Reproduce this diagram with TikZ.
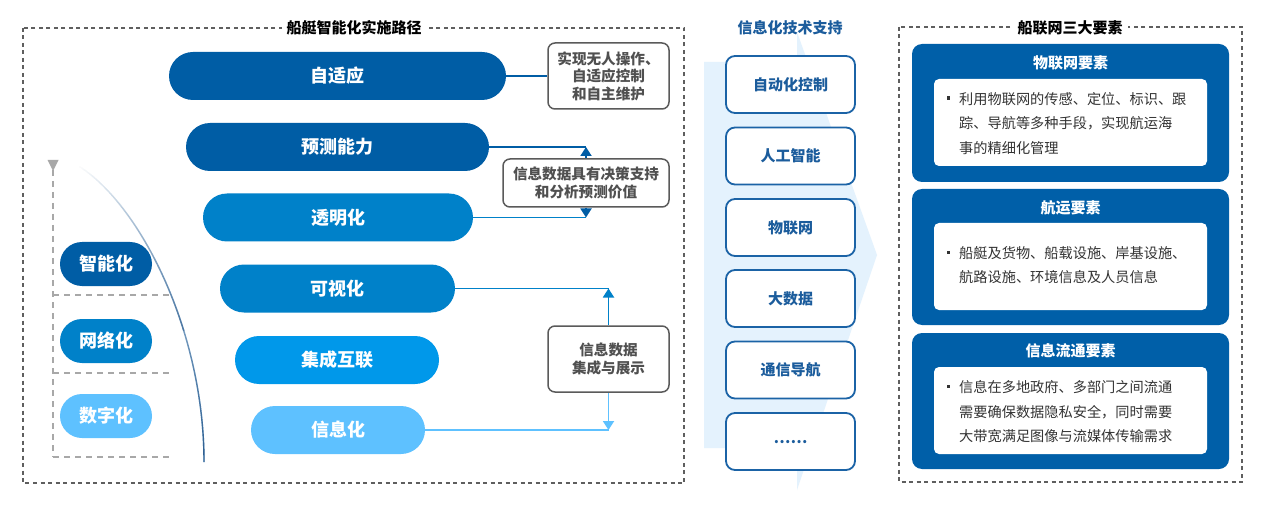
\documentclass[tikz,border=0pt]{standalone}
\usepackage{fontspec}
\setmainfont{Noto Sans CJK SC}
\usetikzlibrary{arrows.meta,fadings}
\definecolor{navy}{HTML}{005DA5}
\definecolor{midb}{HTML}{0081C9}
\definecolor{brightb}{HTML}{0098EA}
\definecolor{lightb}{HTML}{5EC1FF}
\definecolor{cgray}{HTML}{5A5A5A}
\definecolor{ctext}{HTML}{505050}
\definecolor{fgray}{HTML}{5E5E5E}
\definecolor{dgray}{HTML}{A8A8A8}
\definecolor{tborder}{HTML}{1B63A6}
\definecolor{ttext}{HTML}{1B5C9C}
\definecolor{arrowbg}{HTML}{E4F2FD}
\definecolor{pblue}{HTML}{005FA8}
\definecolor{bodyc}{HTML}{333333}
\definecolor{curvelight}{HTML}{A9D3F3}
\definecolor{curvedark}{HTML}{2C5C8E}
\begin{document}
\begin{tikzpicture}[x=1pt,y=-1pt,
  pill/.style={rounded corners=24pt, minimum height=48pt, inner sep=0pt, text=white, font=\fontsize{18}{20}\selectfont\bfseries},
  lvl/.style={rounded corners=22pt, minimum width=92pt, minimum height=44pt, inner sep=0pt, text=white, font=\fontsize{18}{20}\selectfont\bfseries},
  callout/.style={draw=cgray, line width=1.5pt, rounded corners=7pt, fill=white, text=ctext, font=\fontsize{14.6}{17.5}\selectfont\bfseries, align=center, inner sep=0pt},
  techbox/.style={draw=tborder, line width=1.8pt, rounded corners=9pt, fill=white, minimum width=129pt, minimum height=57pt, inner sep=0pt, text=ttext, font=\fontsize{15}{18}\selectfont\bfseries},
  frame/.style={draw=fgray, line width=1.8pt, dash pattern=on 4pt off 3.5pt},
  ftitle/.style={fill=white, inner xsep=5pt, inner ysep=2pt, font=\fontsize{15}{18}\selectfont\bfseries},
  panel/.style={fill=pblue, rounded corners=10pt, minimum width=317pt, inner sep=0pt},
  innerbox/.style={fill=white, rounded corners=5pt, minimum width=273pt, minimum height=87pt, inner sep=0pt},
  ptitle/.style={text=white, font=\fontsize{15}{18}\selectfont\bfseries},
  body/.style={text=bodyc, font=\fontsize{14.2}{24.6}\selectfont, align=left, inner sep=0pt, anchor=west},
  link/.style={line width=1.8pt},
  tip/.style={-{Triangle[width=11pt,length=9pt]}},
  sep/.style={draw=dgray, line width=1.1pt, dash pattern=on 6pt off 5pt}
]
\useasboundingbox[fill=white] (0,0) rectangle (1269,505);

% ---------- left frame ----------
\draw[frame] (23,28) rectangle (684,483);
\node[ftitle] (t1) at (354,28) {船艇智能化实施路径};

% left scale
\draw[sep] (53,170) -- (53,457);
\fill[dgray] (47.5,160) -- (58.5,160) -- (53,171) -- cycle;
\draw[sep] (53,295) -- (170,295);
\draw[sep] (53,373) -- (170,373);
\draw[sep] (53,457) -- (170,457);

% curve
\draw[line width=1.4pt, curvelight, path fading=north] (79,166) .. controls (140,205) and (204,330) .. (204,462);
\begin{scope}
\clip (60,150) rectangle (230,330);
\draw[line width=1.4pt, curvedark, path fading=north] (79,166) .. controls (140,205) and (204,330) .. (204,462);
\end{scope}
\draw[line width=1.4pt, curvedark, path fading=north] (79,166) .. controls (140,205) and (204,330) .. (204,462);

\node[lvl, fill=navy] (l1) at (106,264) {智能化};
\node[lvl, fill=midb] (l2) at (106,341) {网络化};
\node[lvl, fill=lightb] (l3) at (106,416) {数字化};

% pills
\node[pill, fill=navy, minimum width=337pt] (p1) at (337.5,76) {自适应};
\node[pill, fill=navy, minimum width=303pt] (p2) at (337.5,147) {预测能力};
\node[pill, fill=midb, minimum width=270pt] (p3) at (338,217.5) {透明化};
\node[pill, fill=midb, minimum width=235pt] (p4) at (337.5,288.5) {可视化};
\node[pill, fill=brightb, minimum width=204pt] (p5) at (337,360) {集成互联};
\node[pill, fill=lightb, minimum width=174pt] (p6) at (338,430) {信息化};

% callouts
\node[callout, minimum width=121pt, minimum height=66pt] (b1) at (608.5,76) {实现无人操作、\\自适应控制\\和自主维护};
\node[callout, minimum width=166pt, minimum height=48pt] (b2) at (586,183) {信息数据具有决策支持\\和分析预测价值};
\node[callout, minimum width=121pt, minimum height=66pt] (b3) at (608.5,359) {信息数据\\集成与展示};

\draw[link, navy] (p1.east) -- (b1.west);

\coordinate (j2) at (b2.north |- p2.east);
\coordinate (k2) at (b2.south |- p3.east);
\draw[link, navy] (p2.east) -- (j2);
\draw[link, navy, tip] (b2.north) -- (j2);
\draw[link, midb] (p3.east) -- (k2);
\draw[link, navy, tip] (b2.south) -- (k2);

\coordinate (j3) at (b3.north |- p4.east);
\coordinate (k3) at (b3.south |- p6.east);
\draw[link, midb] (p4.east) -- (j3);
\draw[link, midb, tip] (b3.north) -- (j3);
\draw[link, lightb] (p6.east) -- (k3);
\draw[link, lightb, tip] (b3.south) -- (k3);

% ---------- middle column ----------
\fill[arrowbg] (704,62) -- (797,62) -- (797,32) -- (877,255) -- (797,490) -- (797,448) -- (704,448) -- cycle;
\node[ftitle, fill=none, text=ttext] (t2) at (790,28) {信息化技术支持};

\node[techbox] (m1) at (790.5,84.5) {自动化控制};
\node[techbox] (m2) at (790.5,156) {人工智能};
\node[techbox] (m3) at (790.5,227.5) {物联网};
\node[techbox] (m4) at (790.5,298.5) {大数据};
\node[techbox] (m5) at (790.5,370) {通信导航};
\node[techbox] (m6) at (790.5,441.5) {\raisebox{-5pt}{……}};

% ---------- right frame ----------
\draw[frame] (899,27) rectangle (1242,482);
\node[ftitle] (t3) at (1070,28) {船联网三大要素};

\node[panel, minimum height=138pt] (q1) at (1070.5,113) {};
\node[ptitle] (q1t) at (1070.5,63) {物联网要素};
\node[innerbox] (q1b) at (1070.5,122.5) {};
\fill[bodyc] (946.5,96.5) rectangle (950,100);
\node[body] (q1x) at (959,123.5) {利用物联网的传感、定位、标识、跟\\踪、导航等多种手段，实现航运海\\事的精细化管理};

\node[panel, minimum height=136pt] (q2) at (1070.5,257) {};
\node[ptitle] (q2t) at (1070.5,208) {航运要素};
\node[innerbox] (q2b) at (1070.5,266.5) {};
\fill[bodyc] (946.5,250.5) rectangle (950,254);
\node[body] (q2x) at (959,265) {船艇及货物、船载设施、岸基设施、\\航路设施、环境信息及人员信息};

\node[panel, minimum height=136pt] (q3) at (1070.5,401) {};
\node[ptitle] (q3t) at (1070.5,351) {信息流通要素};
\node[innerbox] (q3b) at (1070.5,410.5) {};
\fill[bodyc] (946.5,384.5) rectangle (950,388);
\node[body] (q3x) at (959,412) {信息在多地政府、多部门之间流通\\需要确保数据隐私安全，同时需要\\大带宽满足图像与流媒体传输需求};
\end{tikzpicture}
\end{document}
